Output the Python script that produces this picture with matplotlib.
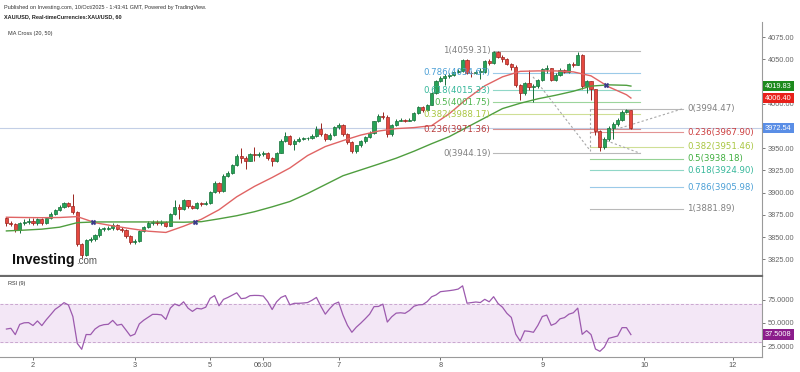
import matplotlib.pyplot as plt
import matplotlib.transforms as mtransforms
import numpy as np

# XAU/USD hourly bars, index 0 = 1 Oct 18:00 ... 141 = 9 Oct 21:00
first_open = 3871
closes = [3866, 3865, 3858, 3866, 3867, 3868, 3866, 3870, 3866, 3871,
          3876, 3880, 3884, 3888, 3885, 3878, 3842, 3830, 3847, 3848,
          3852, 3859, 3859, 3860, 3864, 3859, 3858, 3851, 3845, 3846,
          3857, 3861, 3866, 3867, 3866, 3867, 3863, 3876, 3884, 3881,
          3892, 3885, 3883, 3888, 3887, 3888, 3901, 3911, 3902, 3919,
          3922, 3931, 3941, 3939, 3936, 3943, 3942, 3943, 3944, 3939,
          3935, 3945, 3958, 3964, 3955, 3958, 3960, 3961, 3961, 3964,
          3971, 3966, 3960, 3965, 3974, 3976, 3966, 3957, 3947, 3953,
          3958, 3962, 3967, 3980, 3986, 3985, 3966, 3976, 3981, 3982,
          3981, 3982, 3989, 3996, 3993, 3999, 4012, 4026, 4029, 4031,
          4032, 4036, 4037, 4049, 4035, 4034, 4036, 4036, 4048, 4046,
          4058.5, 4052.5, 4050, 4045, 4041, 4021, 4012, 4023, 4019, 4020,
          4027, 4039, 4040, 4027, 4032, 4038, 4036, 4045, 4044, 4055,
          4020, 4025, 4016, 3969, 3951.5, 3960, 3973, 3977, 3982, 3991,
          3992.5, 3972.54]
highs = [3873, 3868, 3866, 3867, 3870, 3871, 3871, 3872, 3871, 3872,
         3878, 3882, 3886, 3889, 3889, 3898, 3879, 3843, 3848, 3850,
         3854, 3861, 3861, 3862, 3866, 3865, 3861, 3859, 3852, 3848,
         3858, 3863, 3868, 3869, 3869, 3869, 3868, 3877, 3892, 3887,
         3893, 3892, 3886, 3889, 3889, 3890, 3902, 3913, 3912, 3921,
         3924, 3932, 3943, 3950, 3941, 3945, 3951, 3946, 3947, 3946,
         3940, 3946, 3960, 3968, 3965, 3960, 3962, 3963, 3963, 3966,
         3975, 3978, 3967, 3967, 3975, 3978, 3977, 3967, 3958, 3954,
         3959, 3964, 3969, 3981, 3988, 3991, 3987, 3977, 3983, 3984,
         3983, 3984, 3991, 3997, 3997, 4000, 4013, 4027, 4031, 4033,
         4034, 4037, 4039, 4050, 4050, 4037, 4038, 4040, 4049, 4050,
         4059.31, 4059, 4055, 4051, 4046, 4044, 4022, 4024, 4038, 4022,
         4028, 4040, 4044, 4040, 4034, 4040, 4039, 4046, 4047, 4058.5,
         4056, 4027, 4026, 4017, 3970, 3962, 3975, 3979, 3984, 3993,
         3994.47, 3993]
lows = [3862, 3862, 3856, 3855, 3864, 3865, 3864, 3864, 3864, 3865,
        3870, 3875, 3879, 3883, 3884, 3876, 3840, 3826, 3829, 3845,
        3846, 3850, 3857, 3858, 3858, 3858, 3856, 3849, 3842, 3842,
        3845, 3856, 3860, 3864, 3864, 3864, 3861, 3862, 3875, 3870,
        3880, 3883, 3881, 3882, 3885, 3886, 3887, 3900, 3900, 3901,
        3918, 3921, 3930, 3933, 3926, 3935, 3936, 3940, 3941, 3937,
        3930, 3934, 3944, 3957, 3953, 3948, 3957, 3959, 3959, 3960,
        3963, 3964, 3958, 3959, 3964, 3972, 3964, 3955, 3944.19, 3945,
        3951, 3956, 3961, 3966, 3979, 3983, 3963, 3964, 3975, 3980,
        3979, 3980, 3981, 3988, 3991, 3992, 3998, 4011, 4024, 4021,
        4029, 4031, 4034, 4036, 4033, 4030, 4033, 4028, 4035, 4044,
        4045, 4051, 4047, 4043, 4038, 4019, 4004, 4010, 4015, 4002,
        4018, 4026, 4034, 4025, 4026, 4031, 4034, 4035, 4041, 4043,
        4017, 4012, 4004, 3965, 3946.5, 3949, 3958, 3960, 3975, 3980,
        3989, 3971]
rsi = [43.5, 44.3, 37.5, 48.5, 50.2, 50.4, 47.3, 52.2, 47.2, 53.5,
       59.0, 64.7, 68.0, 71.9, 69.4, 57.0, 28.0, 21.7, 37.6, 37.5,
       43.5, 46.8, 48.2, 48.6, 52.8, 47.6, 48.6, 42.4, 36.0, 38.0,
       49.0, 53.0, 56.2, 59.3, 59.3, 58.7, 53.9, 66.0, 70.5, 68.5,
       72.8, 66.0, 62.5, 65.8, 65.1, 67.0, 76.5, 79.5, 68.5, 75.4,
       77.5, 80.0, 82.5, 76.2, 76.8, 79.4, 79.7, 79.6, 79.0, 73.0,
       64.5, 72.8, 77.5, 79.5, 69.5, 71.2, 71.2, 71.5, 72.0, 74.5,
       77.5, 68.0, 59.5, 65.5, 70.5, 72.5, 58.5, 47.5, 40.0, 45.5,
       49.8, 54.5, 59.5, 67.6, 67.8, 70.3, 51.0, 56.7, 60.6, 61.0,
       60.4, 63.5, 68.0, 69.5, 69.8, 73.0, 78.2, 80.2, 83.7, 84.2,
       84.8, 85.5, 86.5, 90.0, 71.3, 72.0, 72.6, 72.0, 75.5, 72.8,
       78.3, 71.0, 67.0, 60.4, 56.0, 38.0, 30.6, 41.5, 41.0, 40.0,
       47.5, 57.0, 58.5, 47.5, 49.5, 54.5, 55.8, 59.5, 61.0, 66.0,
       37.8, 41.8, 37.5, 22.0, 19.5, 24.0, 33.5, 34.8, 36.0, 45.0,
       45.0, 37.5008]

# moving averages read every 4 bars
ma_idx = list(range(0, 141, 4)) + [141]
ma20 = [3872.3, 3872.0, 3871.8, 3872.0, 3873.0, 3866.2, 3862.6, 3859.5, 3856.6, 3855.2,
        3862.2, 3870.0, 3880.7, 3895.3, 3907.0, 3917.0, 3927.7, 3941.7, 3951.8, 3958.5,
        3964.7, 3969.2, 3972.0, 3973.1, 3975.3, 3988.8, 4005.6, 4020.1, 4030.2, 4036.4,
        4036.9, 4036.9, 4035.8, 4031.3, 4018.9, 4010.1, 4006.40]
ma50 = [3856.9, 3857.8, 3858.9, 3861.1, 3866.2, 3867.0, 3867.0, 3867.0, 3867.0, 3866.9,
        3866.7, 3867.3, 3870.5, 3874.0, 3878.5, 3884.0, 3890.0, 3899.0, 3909.0, 3919.0,
        3925.5, 3932.0, 3938.7, 3946.5, 3955.0, 3963.0, 3973.5, 3984.0, 3994.5, 4000.5,
        4005.5, 4009.5, 4014.0, 4019.8, 4021.2, 4020.7, 4019.83]

last_price = 3972.54

tick_pos = [6, 29, 46, 58, 75, 98, 121, 144, 164]
tick_labels = ['2', '3', '5', '06:00', '7', '8', '9', '10', '12']
price_ticks = [3825, 3850, 3875, 3900, 3925, 3950, 3975, 4000, 4025, 4050, 4075]
hidden_ticks = [3975, 4025]  # covered by the value boxes on the chart
rsi_ticks = [25, 50, 75]

# fibonacci tools: (price at 0, price at 1, bar span)
fib_ratios = [1, 0.786, 0.618, 0.5, 0.382, 0.236, 0]
fib_left = (3944.19, 4059.31, 109.9, 143.1)
fib_right = (3994.47, 3881.89, 131.8, 152.8)
fib_text_left = ['#808080', '#4a9fd6', '#35b79a', '#4cb44c', '#a9c640', '#b83a3a', '#808080']
fib_text_right = ['#808080', '#4a9fd6', '#35b79a', '#3fae3f', '#a9c640', '#cc3d3d', '#808080']

# dotted helper lines (bar index, price)
dotted = [((118.9, 4030.2), (131.8, 3947.3)),
          ((131.8, 3994.5), (131.8, 3947.3)),
          ((133.6, 3961.9), (143.1, 3944.2)),
          ((136.7, 3969.7), (152.8, 3994.5))]

plt.rcParams['font.family'] = ['Liberation Sans', 'DejaVu Sans']

W, H = 800, 372
fig = plt.figure(figsize=(8, 3.72), dpi=100)
ax = fig.add_axes([0, 96 / H, 762 / W, 254 / H])
ar = fig.add_axes([0, 15 / H, 762 / W, 80 / H], sharex=ax)

UP, UP_E = '#26a356', '#17703a'
DN, DN_E = '#e5483f', '#9a2520'

idx = np.arange(len(closes))
c = np.array(closes, dtype=float)
o = np.array([first_open] + closes[:-1], dtype=float)
up = c >= o
ax.vlines(idx, lows, highs, colors=np.where(up, UP_E, DN_E), lw=0.7, zorder=3)
ax.bar(idx, np.maximum(np.abs(c - o), 0.7), width=0.72, bottom=np.minimum(o, c),
       color=np.where(up, UP, DN), edgecolor=np.where(up, UP_E, DN_E),
       linewidth=0.5, zorder=4)

ax.plot(ma_idx, ma20, color='#e06464', lw=1.0, zorder=5)
ax.plot(ma_idx, ma50, color='#4f9e3f', lw=1.0, zorder=5)

# MA cross markers
d = np.array(ma20) - np.array(ma50)
for k in range(len(d) - 1):
    if d[k] * d[k + 1] < 0:
        t = d[k] / (d[k] - d[k + 1])
        xi = ma_idx[k] + t * (ma_idx[k + 1] - ma_idx[k])
        yi = ma20[k] + t * (ma20[k + 1] - ma20[k])
        ax.plot(xi, yi, marker='X', color='#3a3a8a', ms=3.5, mew=0.3, zorder=6)

ax.axhline(last_price, color='#c3cfe6', lw=0.8, zorder=1)

# fib retracements
for (p0, p1, xa, xb), cols, side in [(fib_left, fib_text_left, 'left'),
                                     (fib_right, fib_text_right, 'right')]:
    for r, col in zip(fib_ratios, cols):
        lvl = p0 + r * (p1 - p0)
        ax.plot([xa, xb], [lvl, lvl], color=col, lw=0.8, alpha=0.55, zorder=2)
        lab = f"{r:g}({lvl:.2f})"
        if side == 'left':
            ax.text(xa - 0.6, lvl, lab, color=col, fontsize=6.2, ha='right', va='center',
                    family='DejaVu Sans', zorder=7)
        else:
            ax.text(xb + 0.9, lvl, lab, color=col, fontsize=6.2, ha='left', va='center',
                    family='DejaVu Sans', zorder=7)

for (x0, y0), (x1, y1) in dotted:
    ax.plot([x0, x1], [y0, y1], color='#a8a8a8', lw=0.8, ls=(0, (2, 2)), zorder=2)

ax.set_xlim(-1.45, 170.6)
ax.set_ylim(3806.2, 4091.9)
ax.set_yticks(price_ticks)
ax.set_yticklabels(["" if p in hidden_ticks else f"{p:.2f}" for p in price_ticks])
ax.yaxis.tick_right()
ax.tick_params(axis='y', labelsize=5.3, colors='#666666', length=2, width=0.6, pad=2)
ax.tick_params(axis='x', bottom=False, labelbottom=False)
for s in ['top', 'left']:
    ax.spines[s].set_visible(False)
ax.spines['right'].set_color('#9a9a9a')
ax.spines['bottom'].set_color('#6a6a6a')
ax.spines['bottom'].set_linewidth(1.6)

blend = mtransforms.blended_transform_factory(ax.transAxes, ax.transData)
for val, fc in [(ma50[-1], '#1d8a1d'), (ma20[-1], '#e8201a'), (last_price, '#5a8ee6')]:
    ax.text(1.004, val, f"{val:.2f}", transform=blend, color='white', fontsize=5.3,
            ha='left', va='center', zorder=8,
            bbox=dict(boxstyle='square,pad=0.25', fc=fc, ec='none'))

# RSI panel
ar.axhspan(30, 70, color='#f3e7f6', zorder=0)
ar.axhline(70, color='#c9a6cf', lw=0.7, ls=(0, (3, 2)))
ar.axhline(30, color='#c9a6cf', lw=0.7, ls=(0, (3, 2)))
ar.plot(idx, rsi, color='#9c5aae', lw=0.9)
ar.set_ylim(13.4, 99.5)
ar.set_yticks(rsi_ticks)
ar.set_yticklabels([f"{v:.4f}" for v in rsi_ticks])
ar.yaxis.tick_right()
ar.tick_params(axis='y', labelsize=5.3, colors='#666666', length=2, width=0.6, pad=2)
ar.set_xticks(tick_pos)
ar.set_xticklabels(tick_labels)
ar.tick_params(axis='x', labelsize=5.3, colors='#555555', length=2, width=0.6, pad=1.5)
for s in ['top', 'left']:
    ar.spines[s].set_visible(False)
ar.spines['right'].set_color('#9a9a9a')
ar.spines['bottom'].set_color('#9a9a9a')
blend_r = mtransforms.blended_transform_factory(ar.transAxes, ar.transData)
ar.text(1.004, rsi[-1], f"{rsi[-1]:.4f}", transform=blend_r, color='white', fontsize=5.3,
        ha='left', va='center', bbox=dict(boxstyle='square,pad=0.25', fc='#8b1c8b', ec='none'))

# header and labels
def ftext(x, y, s, **kw):
    fig.text(x / W, 1 - y / H, s, **kw)

ftext(4, 7, "Published on Investing.com, 10/Oct/2025 - 1:43:41 GMT, Powered by TradingView.",
      fontsize=4, color='#333333', va='center')
ftext(4, 17, "XAU/USD, Real-timeCurrencies:XAU/USD, 60", fontsize=4, fontweight='bold',
      color='#222222', va='center')
ftext(8, 33, "MA Cross (20, 50)", fontsize=4, color='#333333', va='center')
ftext(8, 284, "RSI (9)", fontsize=4, color='#333333', va='center')
ftext(12, 264, "Investing", fontsize=10.3, fontweight='bold', color='#111111', va='baseline')
ftext(76, 264, ".com", fontsize=7, color='#555555', va='baseline')

fig.savefig("out.png", dpi=100)
